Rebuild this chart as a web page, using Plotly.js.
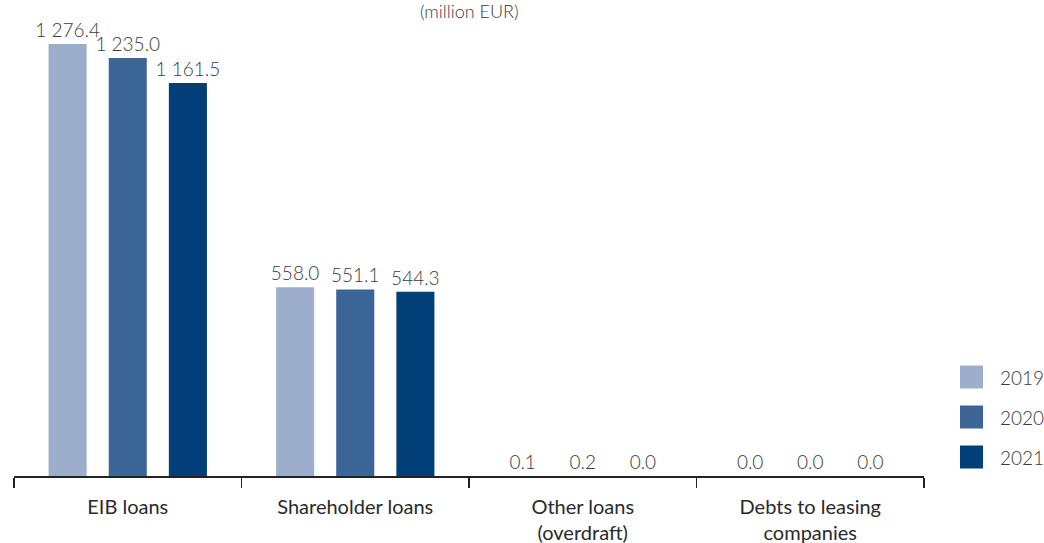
<!DOCTYPE html>
<html>
<head>
<meta charset="utf-8">
<script src="https://cdn.plot.ly/plotly-3.0.1.min.js"></script>
<style>html,body{margin:0;padding:0;background:#fff;}#chart{width:1044px;height:543px;}</style>
</head>
<body>
<div id="chart"></div>
<script>
const categories = ["EIB loans", "Shareholder loans", "Other loans<br>(overdraft)", "Debts to leasing<br>companies"];
const years = ["2019", "2020", "2021"];
const values2019 = [1276.4, 558.0, 0.1, 0.0];
const values2020 = [1235.0, 551.1, 0.2, 0.0];
const values2021 = [1161.5, 544.3, 0.0, 0.0];
const colors = ["#9caecb", "#3c6598", "#023f78"];

function fmt(v) {
  const parts = v.toFixed(1).split(".");
  const intPart = parts[0].replace(/\B(?=(\d{3})+(?!\d))/g, " ");
  return intPart + "." + parts[1];
}

const series = [values2019, values2020, values2021];
const FAM = "Lato, 'Open Sans', sans-serif";
const TXT = "#3a3a3a";

const traces = series.map((vals, i) => ({
  type: "bar",
  name: years[i],
  x: categories,
  y: vals,
  text: vals.map(fmt),
  textposition: "outside",
  constraintext: "none",
  cliponaxis: false,
  textfont: {family: FAM, size: 19, color: TXT, weight: 300},
  marker: {color: colors[i], line: {width: 0}},
  hoverinfo: "x+y+name",
  showlegend: false
}));

// plot area in pixels
const W = 1044, H = 543;
const mL = 14, mR = 120, mT = 36, mB = 67;
const plotW = W - mL - mR, plotH = H - mT - mB;
function px2x(px) { return (px - mL) / plotW; }
function py2y(py) { return (H - mB - py) / plotH; }

const shapes = [], annotations = [];
years.forEach((yr, i) => {
  const cy = 377 + i * 40;
  shapes.push({type: "rect", xref: "paper", yref: "paper",
    x0: px2x(960), x1: px2x(983), y0: py2y(cy + 11.5), y1: py2y(cy - 11.5),
    fillcolor: colors[i], line: {width: 0}});
  annotations.push({xref: "paper", yref: "paper", x: px2x(998), y: py2y(cy),
    xanchor: "left", yanchor: "middle", text: yr, showarrow: false,
    font: {family: FAM, size: 19, color: TXT, weight: 300}});
});

const layout = {
  width: W, height: H,
  margin: {l: mL, r: mR, t: mT, b: mB, pad: 0},
  paper_bgcolor: "#fff", plot_bgcolor: "#fff",
  font: {family: FAM, color: TXT},
  title: {text: "(million EUR)", x: 0.4495, xanchor: "center", y: 0.978, yref: "container", yanchor: "middle",
    font: {family: FAM, size: 18, color: TXT, weight: 300}},
  barmode: "group",
  bargap: 0.207,
  bargroupgap: 0.367,
  showlegend: false,
  xaxis: {type: "category", showline: true, linecolor: "#222", linewidth: 1.5,
    ticks: "outside", tickson: "boundaries", ticklen: 10, tickwidth: 1.5, tickcolor: "#222",
    ticklabelstandoff: 12,
    tickfont: {family: FAM, size: 20, color: "#2a2a2a"}, showgrid: false, zeroline: false,
    range: [-0.5, 3.5]},
  yaxis: {range: [0, 1300], visible: false, showgrid: false, zeroline: false},
  shapes: shapes,
  annotations: annotations
};

Plotly.newPlot("chart", traces, layout, {staticPlot: true, displayModeBar: false});
</script>
</body>
</html>
